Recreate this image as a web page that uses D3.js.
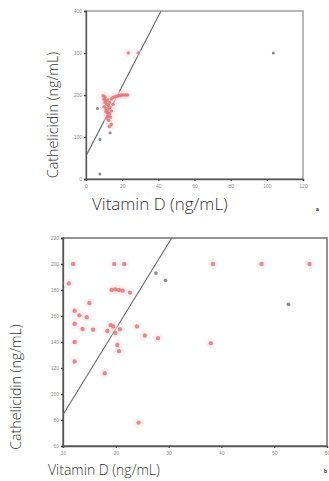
<!DOCTYPE html>
<meta charset="utf-8">
<style>
 body { margin: 0; background: #fff; }
 .lbl { font-family: "Open Sans", "Liberation Sans", Arial, sans-serif; font-weight: 300; fill: #333; }
 .tick text { font-family: "Liberation Sans", Arial, sans-serif; font-size: 5px; fill: #8a8a8a; }
</style>
<body>
<script src="https://cdn.jsdelivr.net/npm/d3@7"></script>
<script>

var width = 329
var height = 481

// chart a
var aXTicks = [0, 20, 40, 60, 80, 100, 120]
var aYTicks = [0, 100, 200, 300, 400]
var aRed = [
  [23.4, 300], [28.9, 300],
  [14, 191], [15, 194], [16, 196], [17, 197], [18, 198], [19, 199], [20, 200], [21, 200], [22, 200], [23, 200],
  [9.5, 198], [10.5, 195], [10, 190], [11, 186], [12, 188], [10.5, 182], [11.5, 178], [12.5, 175],
  [10, 172], [11, 168], [12, 165], [13, 170], [11, 160], [12, 158], [13, 155], [12, 150],
  [13.5, 147], [11.5, 145], [12.5, 140], [14, 162], [13, 182], [14, 130], [13, 125], [15, 178]
]
var aGrey = [[103.6, 300], [7.7, 12], [13.3, 110], [7.7, 94], [6.3, 168]]
var aLine = [[0, 55], [41.5, 400]]

// chart b
var bXTicks = [10, 20, 30, 40, 50, 60]
var bYTicks = [60, 80, 100, 120, 140, 160, 180, 200, 220]
var bRed = [
  [11.9, 200], [19.7, 200], [21.6, 200], [11.1, 185],
  [19.2, 180], [19.9, 180.5], [20.6, 180], [21.3, 179.5], [22.7, 178],
  [15, 170], [12.2, 164], [13.1, 160.5], [14.5, 159], [12.2, 154], [13.7, 150],
  [15.7, 149.5], [18.4, 148.5], [19, 153], [19.5, 152], [19.9, 147], [20.8, 149.8],
  [24, 152], [25.5, 145], [28, 143], [12.2, 140], [20.3, 137.7], [20.6, 133],
  [12.2, 125], [17.9, 116], [24.3, 78], [38.4, 200], [47.6, 200], [56.7, 200], [38, 139]
]
var bGrey = [[27.6, 193], [29.4, 187.5], [52.7, 169]]
var bLine = [[10, 84], [30.6, 220]]

var svg = d3.select("body")
  .append("svg")
  .attr("width", width)
  .attr("height", height);

function drawChart(o) {
  var x = d3.scaleLinear().domain(o.xDomain).range([o.left, o.right]);
  var y = d3.scaleLinear().domain(o.yDomain).range([o.bottom, o.top]);
  var g = svg.append("g");

  g.append("rect")
    .attr("x", o.left).attr("y", o.top)
    .attr("width", o.right - o.left).attr("height", o.bottom - o.top)
    .attr("fill", "none").attr("stroke", o.frame).attr("stroke-width", o.frameW);

  g.append("g")
    .attr("transform", "translate(0," + o.bottom + ")")
    .call(d3.axisBottom(x).tickValues(o.xTicks).tickSize(2).tickPadding(3))
    .call(function (a) { a.select(".domain").attr("stroke", "#555").attr("stroke-width", 1.3); a.selectAll("line").attr("stroke", "#444").attr("stroke-width", 1.2); });

  g.append("g")
    .attr("transform", "translate(" + o.left + ",0)")
    .call(d3.axisLeft(y).tickValues(o.yTicks).tickSize(2).tickPadding(2))
    .call(function (a) { a.select(".domain").attr("stroke", "#555").attr("stroke-width", 1.3); a.selectAll("line").attr("stroke", "#444").attr("stroke-width", 1.5); });

  // fit line, clipped to plot
  var clipId = "clip" + o.name;
  svg.append("clipPath").attr("id", clipId)
    .append("rect").attr("x", o.left).attr("y", o.top)
    .attr("width", o.right - o.left).attr("height", o.bottom - o.top);

  g.append("path")
    .datum(o.line)
    .attr("clip-path", "url(#" + clipId + ")")
    .attr("fill", "none").attr("stroke", "#666").attr("stroke-width", 1.1)
    .attr("d", d3.line().x(function (d) { return x(d[0]); }).y(function (d) { return y(d[1]); }));

  // soft halos (jpeg smear)
  g.selectAll(".halo")
    .data(o.red)
    .enter().append("circle")
    .attr("cx", function (d) { return x(d[0]); })
    .attr("cy", function (d) { return y(d[1]); })
    .attr("r", o.r * 2.4)
    .attr("fill", "#f9dede").attr("opacity", 0.3);

  g.selectAll(".grey")
    .data(o.grey)
    .enter().append("circle")
    .attr("cx", function (d) { return x(d[0]); })
    .attr("cy", function (d) { return y(d[1]); })
    .attr("r", o.r * 0.85)
    .attr("fill", "#8c8c8c");

  g.selectAll(".red")
    .data(o.red)
    .enter().append("circle")
    .attr("cx", function (d) { return x(d[0]); })
    .attr("cy", function (d) { return y(d[1]); })
    .attr("r", o.r)
    .attr("fill", "#e3767a").attr("opacity", 0.85);

  g.append("text")
    .attr("class", "lbl")
    .attr("x", o.xLabel[0]).attr("y", o.xLabel[1])
    .style("font-size", o.xLabel[2] + "px")
    .text("Vitamin D (ng/mL)");

  g.append("text")
    .attr("class", "lbl")
    .attr("text-anchor", "middle")
    .attr("transform", "translate(" + o.yLabel[0] + "," + o.yLabel[1] + ") rotate(-90)")
    .style("font-size", o.yLabel[2] + "px")
    .text("Cathelicidin (ng/mL)");

  g.append("text")
    .attr("x", o.tag[0]).attr("y", o.tag[1])
    .style("font-family", "Liberation Sans, Arial, sans-serif")
    .style("font-size", "5px").style("font-weight", "bold").style("fill", "#222")
    .text(o.name);
}

drawChart({
  name: "a", left: 86, right: 303, top: 11, bottom: 179,
  xDomain: [0, 120], yDomain: [0, 400], xTicks: aXTicks, yTicks: aYTicks,
  red: aRed, grey: aGrey, line: aLine, r: 1.8,
  frame: "#999", frameW: 1.4,
  xLabel: [92, 210, 17], yLabel: [57.5, 115, 14.3], tag: [316, 211]
});

drawChart({
  name: "b", left: 63, right: 327, top: 238, bottom: 446,
  xDomain: [10, 60], yDomain: [60, 220], xTicks: bXTicks, yTicks: bYTicks,
  red: bRed, grey: bGrey, line: bLine, r: 2.2,
  frame: "#888", frameW: 1.8,
  xLabel: [48, 475, 14], yLabel: [21, 387, 14.2], tag: [324, 473]
});

</script>
</body>
